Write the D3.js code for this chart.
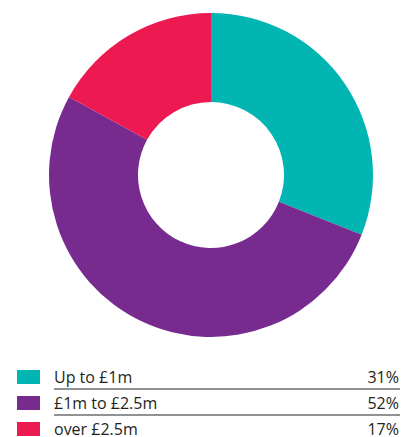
<!DOCTYPE html>
<html>
<head>
<meta charset="utf-8">
<script src="https://cdn.jsdelivr.net/npm/d3@7"></script>
<style>
  body { margin: 0; background: #fff; }
  text { font-family: "Open Sans", "Noto Sans", sans-serif; }
</style>
</head>
<body>
<div id="chart"></div>
<script>
const categories = ['Up to £1m', '£1m to £2.5m', 'over £2.5m'];
const values = [31, 52, 17];
const labels = ['31%', '52%', '17%'];
const colors = ['#00b5b2', '#772b8f', '#ec1a51'];

const width = 401, height = 437;
const cx = 211, cy = 175;
const outerR = 162, innerR = 73;

const svg = d3.select('#chart')
  .append('svg')
  .attr('width', width)
  .attr('height', height);

const pie = d3.pie().sort(null).value(d => d);
const arc = d3.arc().innerRadius(innerR).outerRadius(outerR);

svg.append('g')
  .attr('transform', `translate(${cx}, ${cy})`)
  .selectAll('path')
  .data(pie(values))
  .enter()
  .append('path')
  .attr('d', arc)
  .style('fill', (d, i) => colors[i]);

// legend, rows 26px apart
const rowY = d3.scaleBand().domain(categories).range([366, 444]).padding(0);

const rows = svg.append('g')
  .selectAll('g')
  .data(categories)
  .enter()
  .append('g')
  .attr('transform', d => `translate(0, ${rowY(d)})`);

rows.append('rect')
  .attr('x', 17)
  .attr('y', 4)
  .attr('width', 23)
  .attr('height', 14)
  .style('fill', (d, i) => colors[i]);

rows.append('text')
  .attr('x', 54)
  .attr('y', 16.5)
  .style('font-size', '16px')
  .style('fill', '#231f20')
  .text(d => d);

rows.append('text')
  .attr('x', 399)
  .attr('y', 16.5)
  .attr('text-anchor', 'end')
  .style('font-size', '16px')
  .style('fill', '#231f20')
  .text((d, i) => labels[i]);

rows.filter((d, i) => i < categories.length - 1)
  .append('line')
  .attr('x1', 54)
  .attr('x2', 400)
  .attr('y1', 23)
  .attr('y2', 23)
  .style('stroke', '#6d6e71')
  .style('stroke-width', 1.5);
</script>
</body>
</html>
